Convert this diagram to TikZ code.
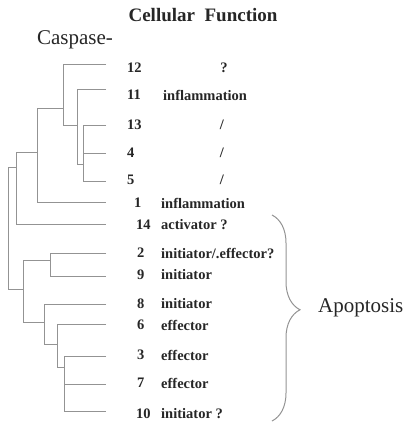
\documentclass[tikz,border=0pt]{standalone}
\usepackage{fontspec}
\setmainfont{Liberation Serif}
\usetikzlibrary{positioning,decorations.pathreplacing}

\begin{document}
\begin{tikzpicture}[x=1pt,y=-1pt,
  every node/.style={font=\fontsize{14.5}{16}\selectfont\bfseries,text=black!85,inner sep=0pt},
  num/.style={anchor=west},
  fn/.style={anchor=west},
  branch/.style={draw=gray!85,line width=1pt}]
  \useasboundingbox (0,0) rectangle (406,424);

\node (title) at (203,15) [font=\fontsize{19}{22}\selectfont\bfseries] {Cellular\ \ Function};

\node (casp) at (75,40) [font=\fontsize{21}{24}\selectfont] {Caspase-};

\node (c12) at (127,68) [num] {12};
\node (f12) at (224,68) {?};
\node (c11) at (127,95) [num] {11};
\node (f11) at (163,95) [fn] {inflammation};
\node (c13) at (127,125) [num] {13};
\node (f13) at (222,125) {/};
\node (c4) at (127,153) [num] {4};
\node (f4) at (222,153) {/};
\node (c5) at (127,180) [num] {5};
\node (f5) at (222,180) {/};
\node (c1) at (134,203) [num] {1};
\node (f1) at (161,203) [fn] {inflammation};
\node (c14) at (136,225) [num] {14};
\node (f14) at (161,225) [fn] {activator ?};
\node (c2) at (137,253) [num] {2};
\node (f2) at (161,253) [fn] {initiator/.effector?};
\node (c9) at (137,275) [num] {9};
\node (f9) at (161,275) [fn] {initiator};
\node (c8) at (137,304) [num] {8};
\node (f8) at (161,304) [fn] {initiator};
\node (c6) at (137,325) [num] {6};
\node (f6) at (161,325) [fn] {effector};
\node (c3) at (137,355) [num] {3};
\node (f3) at (161,355) [fn] {effector};
\node (c7) at (137,383) [num] {7};
\node (f7) at (161,383) [fn] {effector};
\node (c10) at (136,414) [num] {10};
\node (f10) at (161,414) [fn] {initiator ?};

  % upper clade
  \draw[branch] (106,64) -- (63,64) -- (63,125) -- (77,125);
  \draw[branch] (106,89) -- (77,89) -- (77,164) -- (83,164);
  \draw[branch] (106,125) -- (83,125) -- (83,181) -- (106,181);
  \draw[branch] (83,153) -- (106,153);
  \draw[branch] (63,108) -- (37,108) -- (37,202) -- (106,202);
  \draw[branch] (37,152) -- (16,152) -- (16,224) -- (106,224);
  \draw[branch] (16,167) -- (8,167) -- (8,289) -- (23,289);

  % lower clade
  \draw[branch] (50,260) -- (23,260) -- (23,322) -- (44,322);
  \draw[branch] (106,253) -- (50,253) -- (50,276) -- (106,276);
  \draw[branch] (106,304) -- (44,304) -- (44,344) -- (57,344);
  \draw[branch] (106,324) -- (57,324) -- (57,367) -- (64,367);
  \draw[branch] (106,356) -- (64,356) -- (64,411) -- (106,411);
  \draw[branch] (64,384) -- (106,384);

\coordinate (btop) at (272,215);
\coordinate (bbot) at (272,421);
  \draw[branch,decorate,decoration={brace,amplitude=28pt,aspect=0.46}] (btop) -- (bbot);

\node (apo) at (318,308) [anchor=west,font=\fontsize{21}{24}\selectfont] {Apoptosis};
\end{tikzpicture}
\end{document}
